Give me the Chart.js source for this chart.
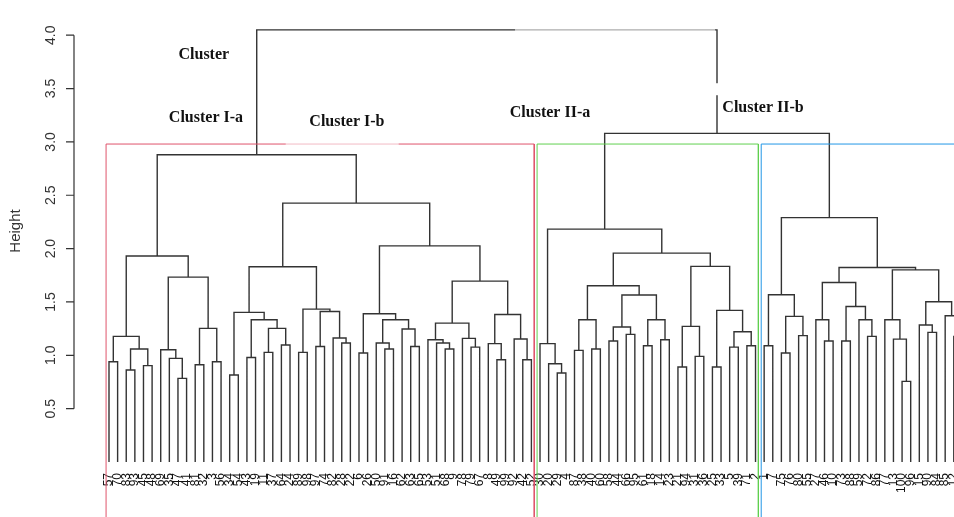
<!DOCTYPE html>
<html>
<head>
<meta charset="utf-8">
<script src="https://cdn.jsdelivr.net/npm/chart.js@4.4.1/dist/chart.umd.min.js"></script>
<style>
  html, body { margin: 0; padding: 0; overflow: hidden; background: #fff; }
  #wrap { width: 1000px; height: 517px; }
</style>
</head>
<body>
<div id="wrap"><canvas id="chart"></canvas></div>
<script>
// leaf labels, left to right in dendrogram order
const leafLabels = [
  57, 70, 83, 93, 45, 48, 69, 35, 47, 41, 81, 32, 3, 56, 34, 54, 43, 19, 11, 37,
  64, 24, 89, 98, 97, 74, 82, 28, 22, 6, 26, 50, 91, 16, 62, 63, 65, 53, 51, 68,
  9, 78, 79, 67, 8, 49, 99, 92, 42, 52,
  30, 20, 29, 4, 87, 38, 40, 60, 58, 44, 66, 95, 61, 18, 14, 23, 21, 94, 31, 36,
  25, 33, 5, 39, 71, 2,
  1, 7, 75, 76, 80, 55, 27, 46, 10, 73, 88, 59, 72, 86, 77, 13, 100, 96, 15, 90,
  84, 85, 12, 17
];

// hclust style merge table: negative = leaf position, positive = earlier merge row
const mergeLeft = [
  -1, -3, -5, 2, 1, -9, -8, -7, -11, -13, 9, 8, 5,
  -15, -17, -19, -21, 16, 15, 14, -23, -25, -28, -27, 22, 21, 20,
  -30, -33, -32, -36, -35, 30, 28, -40, -39, -38, -43, -42, 37, -46, -45, -49, -48, 42, 40, 34, 27, 13,
  -53, -52, -51, -55, -57, 53, -59, -61, 56, -63, -65, 59, 58, 55, -67, -69, 64, -71, -73, -75, 68, 67, 66, 63, 52,
  -77, -79, -81, 76, 75, -84, -83, -86, -89, -88, 82, 81, -93, -92, -91, -96, -95, -99, -98, 91, 89, 86, 79,
  74, 49
];
const mergeRight = [
  -2, -4, -6, 3, 4, -10, 6, 7, -12, -14, 10, 11, 12,
  -16, -18, -20, -22, 17, 18, 19, -24, -26, -29, 23, 24, 25, 26,
  -31, -34, 29, -37, 31, 32, 33, -41, 35, 36, -44, 38, 39, -47, 41, -50, 43, 44, 45, 46, 47, 48,
  -54, 50, 51, -56, -58, 54, -60, -62, 57, -64, -66, 60, 61, 62, -68, -70, 65, -72, -74, -76, 69, 70, 71, 72, 73,
  -78, -80, -82, 77, 78, -85, 80, -87, -90, 83, 84, 85, -94, 87, 88, -97, 90, -100, 92, 93, 94, 95, 96,
  97, 98
];
const mergeHeight = [
  0.94, 0.862, 0.903, 1.059, 1.177, 0.784, 0.971, 1.052, 0.912, 0.94, 1.252, 1.733, 1.93,
  0.815, 0.98, 1.027, 1.096, 1.252, 1.333, 1.402, 1.027, 1.083, 1.115, 1.162, 1.411, 1.433, 1.83,
  1.021, 1.059, 1.115, 1.083, 1.246, 1.333, 1.39, 1.059, 1.115, 1.146, 1.077, 1.159, 1.302, 0.959, 1.109, 0.959, 1.153, 1.383, 1.695, 2.026, 2.426, 2.88,
  0.834, 0.921, 1.109, 1.046, 1.059, 1.333, 1.134, 1.196, 1.265, 1.09, 1.146, 1.333, 1.565, 1.652, 0.89, 0.99, 1.271, 0.89, 1.077, 1.09, 1.221, 1.421, 1.833, 1.958, 2.183,
  1.09, 1.021, 1.184, 1.365, 1.567, 1.134, 1.333, 1.134, 1.177, 1.333, 1.458, 1.683, 0.756, 1.152, 1.333, 1.215, 1.284, 1.177, 1.371, 1.502, 1.801, 1.823, 2.29,
  3.08, 4.05
];

const clusterSizes = [50, 26, 24];
const clusterColors = ['#DF536B', '#61D04F', '#2297E6'];

const clusterNames = ['Cluster', 'Cluster I-a', 'Cluster I-b', 'Cluster II-a', 'Cluster II-b'];
const clusterNameX = [12.0, 12.25, 28.6, 52.16, 76.87];
const clusterNameY = [3.815, 3.225, 3.187, 3.27, 3.318];

const yTicks = [0.5, 1.0, 1.5, 2.0, 2.5, 3.0, 3.5, 4.0];

// build the U shaped links of the tree
const nodeX = [];
const childX = c => (c < 0 ? -c : nodeX[c - 1]);
const childH = c => (c < 0 ? 0 : mergeHeight[c - 1]);
const treePoints = [];
mergeLeft.forEach((l, i) => {
  const r = mergeRight[i];
  const h = mergeHeight[i];
  const xl = childX(l);
  const xr = childX(r);
  nodeX.push((xl + xr) / 2);
  treePoints.push(
    { x: xl, y: childH(l) },
    { x: xl, y: h },
    { x: xr, y: h },
    { x: xr, y: childH(r) },
    { x: xr, y: null }
  );
});

// rect.hclust style boxes for k clusters
const sortedH = [...mergeHeight].sort((a, b) => b - a);
const k = clusterSizes.length;
const cutTop = (sortedH[k - 2] + sortedH[k - 1]) / 2;
let start = 0;
const boxSets = clusterSizes.map((n, i) => {
  const left = start + 0.66;
  const right = start + n + 0.33;
  start += n;
  return {
    data: [
      { x: left, y: -1 },
      { x: left, y: cutTop },
      { x: right, y: cutTop },
      { x: right, y: -1 }
    ],
    borderColor: clusterColors[i],
    borderWidth: 1,
    clip: false
  };
});

const axisPlugin = {
  id: 'rAxis',
  afterDraw(chart) {
    const ctx = chart.ctx;
    const ys = chart.scales.y;
    const xs = chart.scales.x;
    const ax = ys.right;
    ctx.save();

    // pasted label boxes partly hide some lines in the original figure
    ctx.fillStyle = 'rgba(255,255,255,0.6)';
    ctx.fillRect(xs.getPixelForValue(21.5), ys.getPixelForValue(cutTop) - 3, 113, 6);
    ctx.fillRect(xs.getPixelForValue(48.1), ys.getPixelForValue(4.05) - 3, 200, 6);
    ctx.fillStyle = '#fff';
    ctx.fillRect(xs.getPixelForValue(71.5) - 3, ys.getPixelForValue(3.55), 6, 12);

    ctx.strokeStyle = '#333';
    ctx.lineWidth = 1.2;
    ctx.beginPath();
    ctx.moveTo(ax, ys.getPixelForValue(yTicks[0]));
    ctx.lineTo(ax, ys.getPixelForValue(yTicks[yTicks.length - 1]));
    yTicks.forEach(v => {
      const py = ys.getPixelForValue(v);
      ctx.moveTo(ax, py);
      ctx.lineTo(ax - 8, py);
    });
    ctx.stroke();

    ctx.fillStyle = '#333';
    ctx.textAlign = 'center';
    ctx.textBaseline = 'middle';
    ctx.font = '14px "Liberation Sans"';
    yTicks.forEach(v => {
      ctx.save();
      ctx.translate(ax - 23, ys.getPixelForValue(v));
      ctx.rotate(-Math.PI / 2);
      ctx.fillText(v.toFixed(1), 0, 0);
      ctx.restore();
    });

    ctx.save();
    ctx.translate(16, (chart.chartArea.top + chart.chartArea.bottom) / 2);
    ctx.rotate(-Math.PI / 2);
    ctx.font = '15px "Liberation Sans"';
    ctx.fillText('Height', 0, 0);
    ctx.restore();

    ctx.fillStyle = '#111';
    ctx.font = 'bold 16px "Liberation Serif"';
    clusterNames.forEach((t, i) => {
      ctx.fillText(t, xs.getPixelForValue(clusterNameX[i]), ys.getPixelForValue(clusterNameY[i]));
    });
    ctx.restore();
  }
};

new Chart(document.getElementById('chart'), {
  type: 'line',
  data: {
    datasets: [
      ...boxSets,
      { data: treePoints, borderColor: '#333', borderWidth: 1.4, spanGaps: false }
    ]
  },
  options: {
    responsive: true,
    maintainAspectRatio: false,
    animation: false,
    layout: { padding: 0 },
    elements: { point: { radius: 0 }, line: { tension: 0 } },
    plugins: { legend: { display: false }, tooltip: { enabled: false } },
    scales: {
      x: {
        type: 'linear',
        min: -3.06,
        max: 104.36,
        grid: { display: false, drawTicks: false },
        border: { display: false },
        afterBuildTicks: s => { s.ticks = leafLabels.map((_, i) => ({ value: i + 1 })); },
        afterFit: s => { s.height = 55; s.paddingLeft = 0; s.paddingRight = 0; },
        ticks: {
          autoSkip: false,
          minRotation: 90,
          maxRotation: 90,
          padding: 11,
          color: '#111',
          font: { family: 'Liberation Sans', size: 12 },
          callback: v => leafLabels[v - 1]
        }
      },
      y: {
        min: 0,
        max: 4.33,
        grid: { display: false },
        border: { display: false },
        afterBuildTicks: s => { s.ticks = yTicks.map(v => ({ value: v })); },
        afterFit: s => { s.width = 74; },
        ticks: { display: false }
      }
    }
  },
  plugins: [axisPlugin]
});
</script>
</body>
</html>
